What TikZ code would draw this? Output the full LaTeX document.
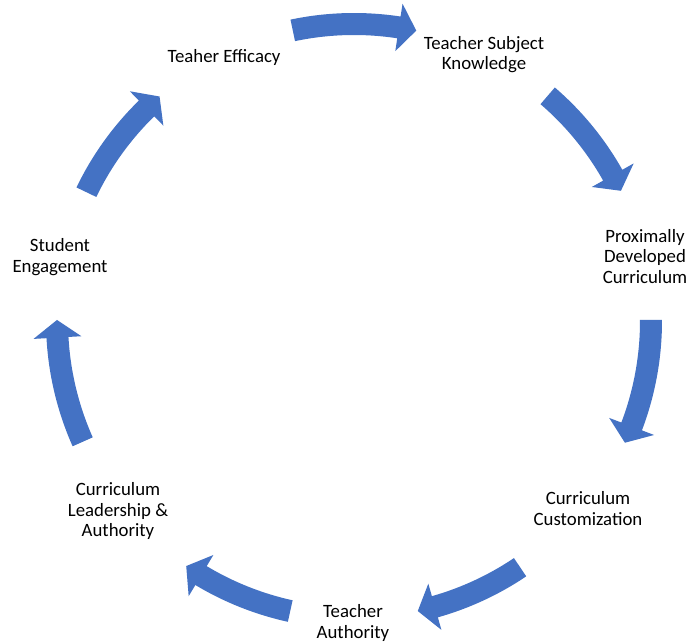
\documentclass[tikz,border=0pt]{standalone}
\usepackage{fontspec}
\setmainfont{Carlito}
\definecolor{arrowblue}{HTML}{4472C4}
\newcommand{\cycarrow}[2]{% #1 tail angle, #2 tip angle
  \fill[cyc] (#1:308) arc[start angle=#1, end angle={#2+3.4}, radius=308]
    -- ({#2+3.4}:321) -- (#2:297) -- ({#2+3.4}:273) -- ({#2+3.4}:286)
    arc[start angle={#2+3.4}, end angle=#1, radius=286] -- cycle;
}
\tikzset{
  lbl/.style={font=\fontsize{18.8}{20.3}\selectfont, align=center, inner sep=0pt},
  cyc/.style={fill=arrowblue}
}
\begin{document}
\begin{tikzpicture}[x=1pt,y=1pt]
\fill[white] (0,0) rectangle (688,644);
\useasboundingbox (0,0) rectangle (688,644);
\begin{scope}[shift={(354,323)}]
  \cycarrow{101.9}{77.9}
  \cycarrow{49.3}{26.0}
  \cycarrow{0.2}{-24.2}
  \cycarrow{-56.0}{-77.6}
  \cycarrow{-102.4}{-124.4}
  \cycarrow{-156.0}{-180.2}
  \cycarrow{154.3}{130.9}
\end{scope}
\node[lbl] (eff) at (224,587) {Teaher Efficacy};
\node[lbl] (tsk) at (484,589.5) {Teacher Subject\\Knowledge};
\node[lbl] (pdc) at (645,387.5) {Proximally\\Developed\\Curriculum};
\node[lbl] (cc) at (588,135.5) {Curriculum\\Customization};
\node[lbl] (ta) at (353,21) {Teacher\\Authority};
\node[lbl] (cla) at (118,133) {Curriculum\\Leadership \&\\Authority};
\node[lbl] (se) at (60,387) {Student\\Engagement};
\end{tikzpicture}
\end{document}
